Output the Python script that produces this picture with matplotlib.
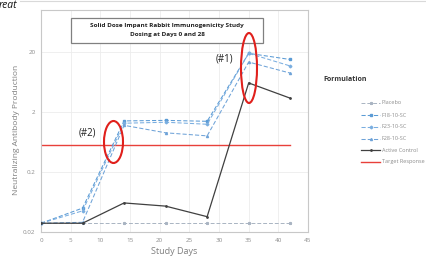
import matplotlib
matplotlib.use("Agg")
import matplotlib.pyplot as plt
from matplotlib.patches import Ellipse, Rectangle
from matplotlib.lines import Line2D

W, H = 427, 263
days = [0, 7, 14, 21, 28, 35, 42]
placebo = [0.028, 0.028, 0.028, 0.028, 0.028, 0.028, 0.028]
f18 = [0.028, 0.050, 1.42, 1.45, 1.40, 19.0, 15.0]
f23 = [0.028, 0.045, 1.30, 1.35, 1.25, 19.0, 11.7]
f28 = [0.028, 0.029, 1.20, 0.90, 0.80, 13.6, 8.9]
active = [0.028, 0.028, 0.061, 0.054, 0.036, 6.1, 3.4]
target = 0.56

series_names = ["Placebo", "F18-10-SC", "F23-10-SC", "F28-10-SC", "Active Control", "Target Response"]
ytick_vals = [0.02, 0.2, 2, 20]
ytick_labels = ["0.02", "0.2", "2", "20"]
xtick_vals = [0, 5, 10, 15, 20, 25, 30, 35, 40, 45]

plt.rcParams['font.family'] = ['Open Sans', 'DejaVu Sans']

fig = plt.figure(figsize=(W / 100, H / 100), dpi=100)
fig.patch.set_facecolor('white')

def fx(px):
    return px / W

def fy(py):
    return 1 - py / H

ax = fig.add_axes([fx(41), fy(232), fx(308) - fx(41), (232 - 10) / H])
ax.set_yscale('log')
ymin = 0.02
ymax = 0.02 * 10 ** (222 / 60)
ax.set_ylim(ymin, ymax)
ax.set_xlim(0, 45)

styles = {
    "Placebo": dict(color='#a9b4c2', ls='--', marker='*', ms=2.0, lw=0.7, dashes=(4, 2)),
    "F18-10-SC": dict(color='#5b9bd5', ls='--', marker='s', ms=1.6, lw=0.75, dashes=(4, 2)),
    "F23-10-SC": dict(color='#7aaee0', ls='--', marker='D', ms=1.4, lw=0.75, dashes=(4, 2)),
    "F28-10-SC": dict(color='#6fa3d8', ls='--', marker='^', ms=1.5, lw=0.75, dashes=(4, 2)),
    "Active Control": dict(color='#404040', ls='-', marker='o', ms=1.0, lw=0.9),
}
data = {"Placebo": placebo, "F18-10-SC": f18, "F23-10-SC": f23, "F28-10-SC": f28, "Active Control": active}
for name, vals in data.items():
    st = dict(styles[name])
    ax.plot(days, vals, **st, zorder=3)
ax.axhline(target, color='#e8403a', lw=1.0, xmin=0, xmax=42 / 45, zorder=2)

ax.set_yticks(ytick_vals)
ax.set_yticklabels(ytick_labels)
ax.yaxis.set_minor_locator(matplotlib.ticker.NullLocator())
ax.set_xticks(xtick_vals)
ax.set_xticklabels([str(v) for v in xtick_vals])
ax.tick_params(axis='both', length=0, labelsize=4.5, labelcolor='#8c8c8c', pad=4)
ax.grid(True, which='major', color='#ececec', lw=0.6)
ax.set_axisbelow(True)
for s in ax.spines.values():
    s.set_color('#c8c8c8')
    s.set_linewidth(0.8)

ax.set_xlabel("Study Days", fontsize=6.5, color='#7f7f7f', labelpad=3)
fig.text(fx(17), fy(130), "Neutralizing Antibody Production", rotation=90, fontsize=6,
         color='#7f7f7f', ha='center', va='center')

# title box
fig.add_artist(Rectangle((fx(71), fy(43)), fx(263) - fx(71), (43 - 18) / H,
                         transform=fig.transFigure, fill=True, facecolor='white',
                         edgecolor='#808080', lw=0.9, zorder=5))
fig.text(fx(167), fy(25.5), "Solid Dose Impant Rabbit Immunogenicity Study", fontsize=4.6,
         fontweight='bold', ha='center', va='center', color='#222222', zorder=6)
fig.text(fx(167), fy(34.5), "Dosing at Days 0 and 28", fontsize=4.6,
         fontweight='bold', ha='center', va='center', color='#222222', zorder=6)

# annotations
fig.add_artist(Ellipse((fx(249), fy(68)), 16 / W, 70 / H, transform=fig.transFigure,
                       fill=False, edgecolor='#e0201c', lw=1.5, zorder=7))
fig.add_artist(Ellipse((fx(113.5), fy(142)), 19 / W, 42 / H, transform=fig.transFigure,
                       fill=False, edgecolor='#e0201c', lw=1.5, zorder=7))
fig.text(fx(224), fy(59), "(#1)", fontsize=7, ha='center', va='center', color='#222222')
fig.text(fx(87), fy(133), "(#2)", fontsize=7, ha='center', va='center', color='#222222')

# legend (manual)
fig.text(fx(323), fy(80), "Formulation", fontsize=5, fontweight='bold', ha='left',
         va='center', color='#333333')
leg_y = [103, 115, 127, 139, 150, 162]
for name, yy in zip(series_names, leg_y):
    if name == "Target Response":
        fig.add_artist(Line2D([fx(361), fx(380)], [fy(yy), fy(yy)], color='#e8403a', lw=1.0,
                              transform=fig.transFigure))
    else:
        st = dict(styles[name])
        fig.add_artist(Line2D([fx(361), fx(371), fx(380)], [fy(yy)] * 3, transform=fig.transFigure,
                              markevery=[1], **st))
    fig.text(fx(382), fy(yy), name, fontsize=4, ha='left', va='center', color='#8c8c8c')

# top remnant text and separator
fig.text(fx(-1), fy(6), "reat", fontsize=7.5, style='italic', ha='left', va='center', color='#111111')
fig.add_artist(Line2D([fx(20), 1], [fy(1), fy(1)], color='#d9d9d9', lw=0.8, transform=fig.transFigure))

fig.savefig("out.png", dpi=100, facecolor='white')
